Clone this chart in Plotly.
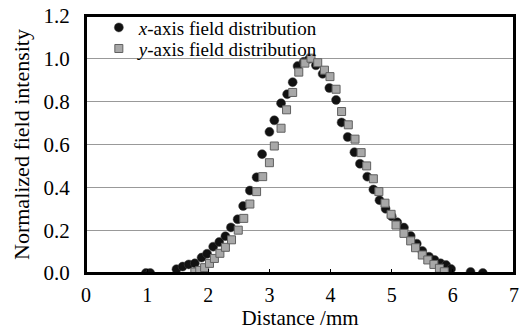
import plotly.graph_objects as go

# x-axis field distribution (black circles)
x_dist = [0.98, 1.05, 1.48, 1.58, 1.68, 1.78, 1.89, 1.98, 2.08, 2.18, 2.28, 2.37, 2.48, 2.57,
          2.68, 2.79, 2.88, 3.00, 3.08, 3.19, 3.29, 3.38, 3.46, 3.56, 3.65, 3.76, 3.87, 3.98,
          4.09, 4.18, 4.28, 4.39, 4.48, 4.60, 4.70, 4.80, 4.90, 5.00, 5.09, 5.20, 5.31, 5.41,
          5.50, 5.61, 5.70, 5.80, 5.89, 5.97, 6.29, 6.49]
x_val = [0.0, 0.0, 0.018, 0.030, 0.040, 0.045, 0.072, 0.090, 0.123, 0.145, 0.172, 0.213, 0.251, 0.313,
         0.385, 0.447, 0.555, 0.659, 0.713, 0.793, 0.835, 0.891, 0.966, 0.986, 1.0, 0.97, 0.93, 0.864,
         0.808, 0.703, 0.635, 0.564, 0.510, 0.450, 0.390, 0.340, 0.300, 0.265, 0.237, 0.212, 0.173, 0.137,
         0.103, 0.076, 0.061, 0.045, 0.037, 0.019, 0.005, 0.0]

# y-axis field distribution (grey squares)
y_dist = [1.78, 1.86, 1.94, 2.02, 2.10, 2.19, 2.28, 2.38, 2.49, 2.58, 2.68, 2.79, 2.89, 3.00,
          3.08, 3.19, 3.28, 3.38, 3.48, 3.58, 3.68, 3.79, 3.90, 3.99, 4.09, 4.18, 4.29, 4.40,
          4.50, 4.59, 4.70, 4.79, 4.89, 4.99, 5.07, 5.20, 5.31, 5.39, 5.50, 5.59, 5.69, 5.78,
          5.86]
y_val = [0.004, 0.012, 0.025, 0.045, 0.068, 0.092, 0.120, 0.155, 0.200, 0.255, 0.322, 0.380, 0.450, 0.515,
         0.593, 0.676, 0.762, 0.843, 0.938, 0.980, 1.003, 0.982, 0.947, 0.917, 0.858, 0.754, 0.692, 0.625,
         0.562, 0.500, 0.440, 0.380, 0.326, 0.274, 0.224, 0.185, 0.150, 0.118, 0.084, 0.061, 0.040, 0.022,
         0.006]

x_ticks = [0, 1, 2, 3, 4, 5, 6, 7]
y_ticks = [0.0, 0.2, 0.4, 0.6, 0.8, 1.0, 1.2]

serif = "Liberation Serif, Times New Roman, serif"

fig = go.Figure()
fig.add_trace(go.Scatter(
    x=x_dist, y=x_val, mode="markers", name="<i>x</i>-axis field distribution",
    marker=dict(symbol="circle", size=9, color="#111111", line=dict(color="#444444", width=0.5)),
    legend="legend",
))
fig.add_trace(go.Scatter(
    x=y_dist, y=y_val, mode="markers", name="<i>y</i>-axis field distribution",
    marker=dict(symbol="square", size=8, color="#a8a8a8", line=dict(color="#606060", width=1)),
    legend="legend2",
))

leg_common = dict(xanchor="left", yanchor="middle", bgcolor="rgba(0,0,0,0)",
                  font=dict(family=serif, size=19, color="black"), itemwidth=30, borderwidth=0)

fig.update_layout(
    width=522, height=331,
    margin=dict(l=86, r=8, t=16, b=58, autoexpand=False),
    paper_bgcolor="white", plot_bgcolor="white",
    font=dict(family=serif, size=20, color="black"),
    showlegend=True,
    legend=dict(x=0.03, y=0.955, **leg_common),
    legend2=dict(x=0.03, y=0.873, **leg_common),
    xaxis=dict(range=[0, 7], tickvals=x_ticks, ticktext=[str(v) for v in x_ticks],
               showgrid=False, zeroline=False, showline=True, linecolor="black", linewidth=2,
               mirror=True, ticks="inside", ticklen=4, tickcolor="black", automargin=False,
               ticklabelstandoff=3, ticklabeloverflow="allow",
               title=dict(text="Distance /mm", font=dict(family=serif, size=21), standoff=5),
               tickfont=dict(family=serif, size=20)),
    yaxis=dict(range=[0, 1.2], tickvals=y_ticks, ticktext=["%.1f" % v for v in y_ticks],
               showgrid=True, gridcolor="#999999", gridwidth=1, zeroline=False,
               showline=True, linecolor="black", linewidth=2, mirror=True, ticks="",
               automargin=False, ticklabelstandoff=10, ticklabeloverflow="allow",
               title=dict(text="Normalized field intensity", font=dict(family=serif, size=22), standoff=8),
               tickfont=dict(family=serif, size=21)),
    shapes=[dict(type="rect", xref="paper", yref="paper", x0=0, x1=1, y0=0, y1=1,
                 line=dict(color="#000000", width=2), fillcolor="rgba(0,0,0,0)", layer="above")],
)

fig.write_html("out.html", config={"displayModeBar": False},
               post_script="document.body.style.margin='0px';")
